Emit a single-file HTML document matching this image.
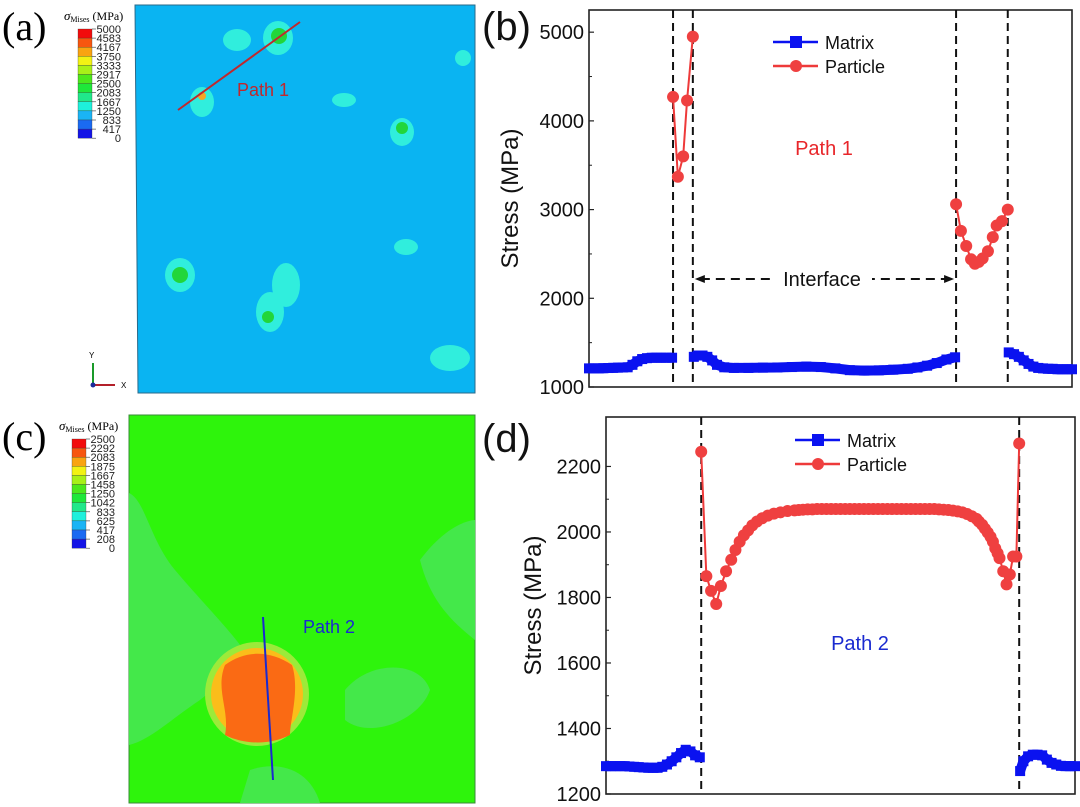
<!DOCTYPE html>
<html><head><meta charset="utf-8"><style>
body{margin:0;background:#fff}
svg{display:block}
text{font-family:"Liberation Sans",sans-serif}
.serif{font-family:"Liberation Serif",serif}
</style></head><body>
<svg id="fig" width="1080" height="807" viewBox="0 0 1080 807" xmlns="http://www.w3.org/2000/svg">
<g>
<text class="serif" x="2" y="40" font-size="40">(a)</text>
<text class="serif" x="64" y="20" font-size="13" font-style="italic">σ<tspan font-size="8" dy="2" font-style="normal">Mises</tspan><tspan dy="-2" font-style="normal" font-size="12"> (MPa)</tspan></text>
<g id="cbarA"></g>
<polygon points="135,5 475,5 475,393 138,393" fill="#0ab4f2" stroke="#2a6a8a" stroke-width="1"/>
<g fill="#30eedd">
<ellipse cx="237" cy="40" rx="14" ry="11"/><ellipse cx="278" cy="38" rx="15" ry="17"/>
<ellipse cx="202" cy="102" rx="12" ry="15"/><ellipse cx="344" cy="100" rx="12" ry="7"/>
<ellipse cx="402" cy="132" rx="12" ry="14"/><ellipse cx="180" cy="275" rx="15" ry="17"/>
<ellipse cx="270" cy="312" rx="14" ry="20"/><ellipse cx="286" cy="285" rx="14" ry="22"/>
<ellipse cx="406" cy="247" rx="12" ry="8"/><ellipse cx="450" cy="358" rx="20" ry="13"/>
<ellipse cx="463" cy="58" rx="8" ry="8"/>
</g>
<circle cx="279" cy="36" r="8" fill="#22d63a"/><circle cx="202" cy="96" r="4" fill="#f5a623"/>
<circle cx="402" cy="128" r="6" fill="#22d63a"/><circle cx="180" cy="275" r="8" fill="#22d63a"/>
<circle cx="268" cy="317" r="6" fill="#22d63a"/>
<line x1="178" y1="110" x2="300" y2="22" stroke="#c0282d" stroke-width="2"/>
<text x="237" y="96" font-size="18" fill="#c0282d">Path 1</text>
<g><line x1="93" y1="385" x2="93" y2="363" stroke="#1a9a2a" stroke-width="2"/><line x1="93" y1="385" x2="115" y2="385" stroke="#b3202a" stroke-width="2"/><circle cx="93" cy="385" r="2.5" fill="#1a2a9a"/><text x="89" y="358" font-size="8">Y</text><text x="121" y="388" font-size="8">X</text></g>
</g>
<g>
<text class="serif" x="2" y="450" font-size="40">(c)</text>
<text class="serif" x="59" y="430" font-size="13" font-style="italic">σ<tspan font-size="8" dy="2" font-style="normal">Mises</tspan><tspan dy="-2" font-style="normal" font-size="12"> (MPa)</tspan></text>
<g id="cbarC"></g>
<rect x="129" y="415" width="346" height="388" fill="#2ef40c" stroke="#3a8a3a"/>
<g fill="#44e84a">
<path d="M129,493 C145,500 150,540 175,570 C200,600 240,640 250,660 L200,700 C170,720 150,740 129,745 Z"/>
<path d="M129,560 C170,600 200,640 200,680 C190,720 150,700 129,690Z"/>
<path d="M345,690 C370,660 420,660 430,690 C420,720 370,740 345,720Z"/>
<path d="M250,770 C280,760 310,770 320,803 L240,803Z"/>
<path d="M420,560 C450,520 475,520 475,520 L475,640 C450,620 430,600 420,560Z"/>
</g>
<circle cx="257" cy="694" r="52" fill="#9cea3a"/>
<circle cx="257" cy="694" r="46" fill="#fbbd1a"/>
<path d="M225,665 C245,650 270,650 292,665 C300,690 290,720 290,735 C270,745 245,745 225,735 C230,710 215,690 225,665Z" fill="#fa6a14"/>
<line x1="263" y1="617" x2="273" y2="780" stroke="#1a2ad0" stroke-width="2"/>
<text x="303" y="633" font-size="18" fill="#1a2ad0">Path 2</text>
</g>
<g id="chartB"></g>
<g id="chartD"></g>
</svg>
<script>
const cbarALabels=["5000","4583","4167","3750","3333","2917","2500","2083","1667","1250","833","417","0"];
const cbarCLabels=["2500","2292","2083","1875","1667","1458","1250","1042","833","625","417","208","0"];
const cbarColors=["#f20c0c","#f7560f","#f9a411","#f2f214","#a8f018","#4ce81c","#1ee83a","#20e88a","#1ef0dc","#1ab4f5","#1a6af2","#1414e6"];

const bTicks=[1000,2000,3000,4000,5000];
const bDash=[17.4,21.5,76,86.7];
const bM1x=[0,1,2,3,4,5,6,7,8,9,10,11,12,13,14,15,16,17.2];
const bM1y=[1210,1210,1210,1212,1214,1216,1218,1220,1222,1250,1290,1315,1325,1330,1330,1330,1330,1330];
const bM2x=[21.7,22.5,23.5,24.5,25.5,26.5,28,30,33,36,39,42,45,48,51,54,57,60,63,66,68,70,72,74,75.8];
const bM2y=[1340,1355,1355,1340,1300,1250,1222,1215,1215,1218,1220,1225,1230,1225,1210,1190,1185,1188,1195,1205,1220,1240,1270,1310,1335];
const bM3x=[86.9,88,89,90,91,92,93,94,95,96,97,98,99,100];
const bM3y=[1390,1370,1340,1300,1260,1230,1215,1210,1205,1205,1200,1200,1200,1200];
const bP1x=[17.4,18.4,19.5,20.3,21.5];
const bP1y=[4270,3370,3600,4230,4950];
const bP2x=[76,77,78.1,79.1,79.9,80.7,81.5,82.6,83.6,84.4,85.5,86.7];
const bP2y=[3060,2760,2590,2440,2390,2410,2450,2530,2690,2820,2870,3000];

const dTicks=[1200,1400,1600,1800,2000,2200];
const dDash=[20.3,88.1];
const dM1x=[0,1,2,3,4,5,6,7,8,9,10,11,12,13,14,15,16,17,18,19,20];
const dM1y=[1285,1285,1285,1285,1285,1284,1283,1282,1281,1280,1280,1280,1283,1290,1300,1312,1325,1335,1330,1318,1312];
const dM2x=[88.3,89,90,91,92,93,94,95,96,97,98,99,100];
const dM2y=[1270,1300,1315,1320,1320,1318,1305,1295,1290,1286,1285,1285,1285];
const dPx=[20.3,21.4,22.4,23.5,24.5,25.6,26.7,27.6,28.5,29.4,30.3,31.2,32.2,33.3,34.5,35.8,37.2,38.7,40.2,41.1,42,43,44,45,46,47,48,49,50,51,52,53,54,55,56,57,58,59,60,61,62,63,64,65,66,67,68,69,70,71,72,73,74,75,76,77,78,79,79.5,80.2,80.8,81.4,82,82.5,83,83.5,83.9,84.7,85.4,86.1,86.8,87.5,88.1];
const dPy=[2245,1865,1820,1780,1835,1880,1915,1945,1970,1990,2005,2020,2032,2042,2050,2056,2060,2064,2066,2067,2068,2069,2069,2070,2070,2070,2070,2070,2070,2070,2070,2070,2070,2070,2070,2070,2070,2070,2070,2070,2070,2070,2070,2070,2070,2070,2070,2070,2070,2069,2068,2067,2065,2063,2060,2055,2048,2040,2032,2022,2010,1998,1985,1970,1950,1935,1920,1880,1840,1870,1925,1925,2270];

const NS="http://www.w3.org/2000/svg";
function mk(tag,attrs,parent){const e=document.createElementNS(NS,tag);for(const k in attrs)e.setAttribute(k,attrs[k]);parent.appendChild(e);return e;}

function colorbar(gid,x0,y0,labels){
  const g=document.getElementById(gid);const h=9.1;
  cbarColors.forEach((c,i)=>{const r=mk('rect',{x:x0,y:y0+i*h,width:14,height:h,fill:c,stroke:'#333','stroke-width':0.3},g);
    
    });
  labels.forEach((l,i)=>{const t=mk('text',{x:x0+43,y:y0+i*h+4,'font-size':11,'text-anchor':'end',fill:'#222'},g);t.textContent=l;
    
    
    mk('line',{x1:x0+14,x2:x0+18,y1:y0+i*h,y2:y0+i*h,stroke:'#333','stroke-width':0.6},g);});
}
colorbar('cbarA',78,29,cbarALabels);
colorbar('cbarC',72,439,cbarCLabels);

function chart(gid,box,ymin,ymax,ticks,dash,mat,par,opts){
  const g=document.getElementById(gid);
  const X=v=>box.x0+(v/100)*(box.x1-box.x0);
  const Y=v=>box.y1-(v-ymin)/(ymax-ymin)*(box.y1-box.y0);
  const fr=mk('rect',{x:box.x0,y:box.y0,width:box.x1-box.x0,height:box.y1-box.y0,fill:'none',stroke:'#222','stroke-width':1.6},g);
  
  
  ticks.forEach((t,i)=>{
    mk('line',{x1:box.x0,x2:box.x0+5,y1:Y(t),y2:Y(t),stroke:'#222','stroke-width':1.2},g);
    if(i<ticks.length-1){const m=(t+ticks[i+1])/2;mk('line',{x1:box.x0,x2:box.x0+3,y1:Y(m),y2:Y(m),stroke:'#222','stroke-width':1},g);}
    const tx=mk('text',{x:box.x0-5,y:Y(t)+7,'font-size':20,'text-anchor':'end',fill:'#111'},g);tx.textContent=t;
    
    
  });
  const yt=mk('text',{transform:`translate(${opts.titleX},${(box.y0+box.y1)/2}) rotate(-90)`,'font-size':24,'text-anchor':'middle',fill:'#111'},g);yt.textContent='Stress (MPa)';
  
  
  dash.forEach(d=>{const l=mk('line',{x1:X(d),x2:X(d),y1:box.y0,y2:box.y1,stroke:'#111','stroke-width':2,'stroke-dasharray':'8,5'},g);
    
    });
  mat.forEach(([xs,ys])=>{
    const pts=xs.map((x,i)=>X(x)+','+Y(ys[i])).join(' ');
    const pl=mk('polyline',{points:pts,fill:'none',stroke:'#0a12f0','stroke-width':10,'stroke-linejoin':'bevel'},g);
    
    
    xs.forEach((x,i)=>{const r=mk('rect',{x:X(x)-5,y:Y(ys[i])-5,width:10,height:10,fill:'#0a12f0'},g);
      
      });
  });
  par.forEach(([xs,ys])=>{
    const pts=xs.map((x,i)=>X(x)+','+Y(ys[i])).join(' ');
    const pl=mk('polyline',{points:pts,fill:'none',stroke:'#ee3a3a','stroke-width':2},g);
    
    
    xs.forEach((x,i)=>{const c=mk('circle',{cx:X(x),cy:Y(ys[i]),r:6,fill:'#ef4040'},g);
      
      });
  });
  const lx=opts.legX,ly=opts.legY;
  mk('line',{x1:lx,x2:lx+45,y1:ly,y2:ly,stroke:'#0a12f0','stroke-width':2.5},g);
  mk('rect',{x:lx+17,y:ly-6,width:12,height:12,fill:'#0a12f0'},g);
  const t1=mk('text',{x:lx+52,y:ly+7,'font-size':18,fill:'#111'},g);t1.textContent='Matrix';
  
  
  mk('line',{x1:lx,x2:lx+45,y1:ly+24,y2:ly+24,stroke:'#ee3a3a','stroke-width':2.5},g);
  mk('circle',{cx:lx+23,cy:ly+24,r:6,fill:'#ef4040'},g);
  const t2=mk('text',{x:lx+52,y:ly+31,'font-size':18,fill:'#111'},g);t2.textContent='Particle';
  
  
  const pl=mk('text',{x:opts.pathX,y:opts.pathY,'font-size':20,fill:opts.pathColor,'text-anchor':'middle'},g);pl.textContent=opts.pathText;
  
  
  const lab=mk('text',{x:opts.labX,y:opts.labY,'font-size':40,'font-family':'Liberation Serif, serif',fill:'#111'},g);lab.textContent=opts.lab;
  
  
  return {X,Y,g};
}
const b=chart('chartB',{x0:589,x1:1072,y0:10,y1:387},1000,5250,bTicks,bDash,[[bM1x,bM1y],[bM2x,bM2y],[bM3x,bM3y]],[[bP1x,bP1y],[bP2x,bP2y]],
 {titleX:518,legX:773,legY:42,pathX:824,pathY:155,pathColor:'#e8262a',pathText:'Path 1',labX:482,labY:40,lab:'(b)'});
(function(){const g=b.g;const y=279;
 mk('line',{x1:b.X(bDash[1])+8,x2:b.X(bDash[2])-8,y1:y,y2:y,stroke:'#111','stroke-width':2,'stroke-dasharray':'9,6'},g);
 mk('polygon',{points:`${b.X(bDash[1])+2},${y} ${b.X(bDash[1])+12},${y-4} ${b.X(bDash[1])+12},${y+4}`,fill:'#111'},g);
 mk('polygon',{points:`${b.X(bDash[2])-2},${y} ${b.X(bDash[2])-12},${y-4} ${b.X(bDash[2])-12},${y+4}`,fill:'#111'},g);
 mk('rect',{x:772,y:y-14,width:100,height:28,fill:'#fff'},g);
 const t=mk('text',{x:822,y:y+7,'font-size':20,'text-anchor':'middle',fill:'#111'},g);t.textContent='Interface';
 
 })();
chart('chartD',{x0:606,x1:1075,y0:417,y1:794},1200,2351,dTicks,dDash,[[dM1x,dM1y],[dM2x,dM2y]],[[dPx,dPy]],
 {titleX:541,legX:795,legY:440,pathX:860,pathY:650,pathColor:'#1a2ad0',pathText:'Path 2',labX:482,labY:452,lab:'(d)'});
</script>
</body></html>
